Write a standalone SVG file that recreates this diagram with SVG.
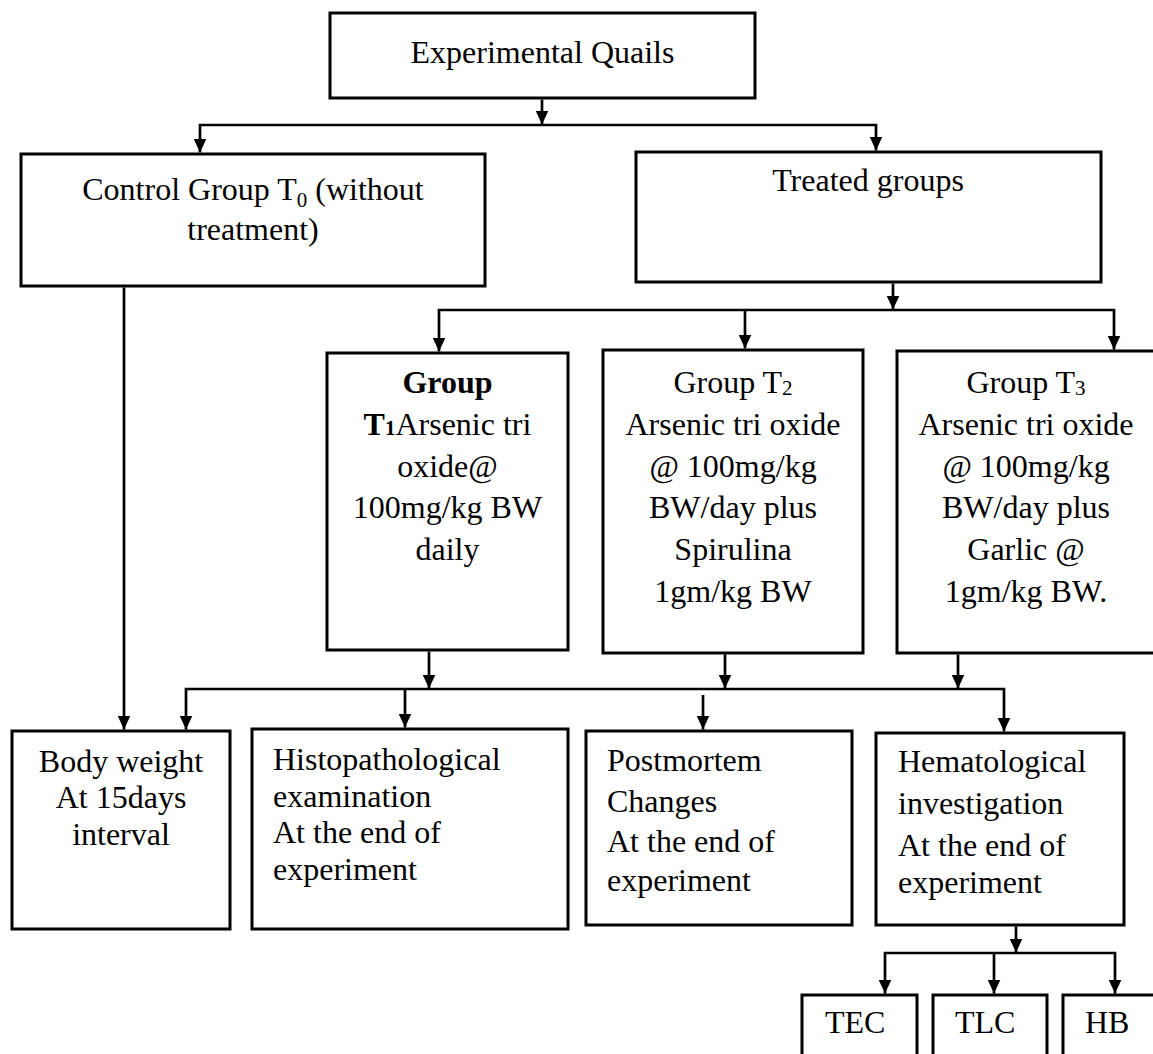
<svg xmlns="http://www.w3.org/2000/svg" width="1153" height="1054" viewBox="0 0 1153 1054">
<style>
.box{fill:#fff;stroke:#000;stroke-width:3}
.t{font-family:'Liberation Serif','Times New Roman',serif;font-size:32px;fill:#000}
.c{text-anchor:middle}
.b{font-weight:bold}
.con{fill:none;stroke:#000;stroke-width:2.7}
</style>
<defs>
<marker id="ah" markerUnits="userSpaceOnUse" markerWidth="14" markerHeight="13" refX="14" refY="6.5" orient="auto-start-reverse">
<path d="M0,0 L14,6.5 L0,13 z" fill="#000"/>
</marker>
</defs>
<rect width="1153" height="1054" fill="#fff"/>
<g id="connectors">
<path class="con" d="M542,99.5 V124.5" marker-end="url(#ah)"/>
<path class="con" d="M200,152.5 V125 H876 V150.5" marker-start="url(#ah)" marker-end="url(#ah)"/>
<path class="con" d="M124,287.5 V729.5" marker-end="url(#ah)"/>
<path class="con" d="M893,283.5 V309.5" marker-end="url(#ah)"/>
<path class="con" d="M439,351.5 V310 H1114 V349.5" marker-start="url(#ah)" marker-end="url(#ah)"/>
<path class="con" d="M745,310 V348.5" marker-end="url(#ah)"/>
<path class="con" d="M429,651.5 V688.5" marker-end="url(#ah)"/>
<path class="con" d="M725,654.5 V688.5" marker-end="url(#ah)"/>
<path class="con" d="M958,654.5 V688.5" marker-end="url(#ah)"/>
<path class="con" d="M186,729.5 V689 H1004 V731.5" marker-start="url(#ah)" marker-end="url(#ah)"/>
<path class="con" d="M405,689 V727.5" marker-end="url(#ah)"/>
<path class="con" d="M703,695 V729.5" marker-end="url(#ah)"/>
<path class="con" d="M1016,926.5 V952.5" marker-end="url(#ah)"/>
<path class="con" d="M885,993.5 V953 H1115 V993.5" marker-start="url(#ah)" marker-end="url(#ah)"/>
<path class="con" d="M994,953 V993.5" marker-end="url(#ah)"/>
</g>
<g id="experimental-quails">
<rect class="box" x="330" y="13" width="425" height="85"/>
<text class="t c" x="542.5" y="63">Experimental Quails</text>
</g>
<g id="control-group">
<rect class="box" x="21" y="154" width="464" height="132"/>
<text class="t c" x="253" y="200">Control Group T<tspan font-size="21" dy="7">0</tspan><tspan dy="-7"> (without</tspan></text>
<text class="t c" x="253" y="240">treatment)</text>
</g>
<g id="treated-groups">
<rect class="box" x="636" y="152" width="465" height="130"/>
<text class="t c" x="868" y="191">Treated groups</text>
</g>
<g id="group-t1">
<rect class="box" x="327" y="353" width="241" height="297"/>
<text class="t c b" x="447.5" y="393">Group</text>
<text class="t c" x="447.5" y="435"><tspan class="b">T</tspan><tspan class="b" font-size="21">1</tspan>Arsenic tri</text>
<text class="t c" x="447.5" y="477">oxide@</text>
<text class="t c" x="447.5" y="518">100mg/kg BW</text>
<text class="t c" x="447.5" y="560">daily</text>
</g>
<g id="group-t2">
<rect class="box" x="603" y="350" width="260" height="303"/>
<text class="t c" x="733" y="393">Group T<tspan font-size="21" dy="2">2</tspan></text>
<text class="t c" x="733" y="435">Arsenic tri oxide</text>
<text class="t c" x="733" y="477">@ 100mg/kg</text>
<text class="t c" x="733" y="518">BW/day plus</text>
<text class="t c" x="733" y="560">Spirulina</text>
<text class="t c" x="733" y="602">1gm/kg BW</text>
</g>
<g id="group-t3">
<rect class="box" x="897" y="351" width="259" height="302"/>
<text class="t c" x="1026" y="393">Group T<tspan font-size="21" dy="2">3</tspan></text>
<text class="t c" x="1026" y="435">Arsenic tri oxide</text>
<text class="t c" x="1026" y="477">@ 100mg/kg</text>
<text class="t c" x="1026" y="518">BW/day plus</text>
<text class="t c" x="1026" y="560">Garlic @</text>
<text class="t c" x="1026" y="602">1gm/kg BW.</text>
</g>
<g id="body-weight">
<rect class="box" x="12" y="731" width="218" height="198"/>
<text class="t c" x="121" y="772">Body weight</text>
<text class="t c" x="121" y="808">At 15days</text>
<text class="t c" x="121" y="845">interval</text>
</g>
<g id="histopathological">
<rect class="box" x="252" y="729" width="316" height="200"/>
<text class="t" x="273" y="770">Histopathological</text>
<text class="t" x="273" y="807">examination</text>
<text class="t" x="273" y="843">At the end of</text>
<text class="t" x="273" y="880">experiment</text>
</g>
<g id="postmortem">
<rect class="box" x="586" y="731" width="266" height="194"/>
<text class="t" x="607" y="771">Postmortem</text>
<text class="t" x="607" y="812">Changes</text>
<text class="t" x="607" y="852">At the end of</text>
<text class="t" x="607" y="891">experiment</text>
</g>
<g id="hematological">
<rect class="box" x="876" y="733" width="248" height="192"/>
<text class="t" x="898" y="772">Hematological</text>
<text class="t" x="898" y="814">investigation</text>
<text class="t" x="898" y="856">At the end of</text>
<text class="t" x="898" y="893">experiment</text>
</g>
<g id="tec">
<rect class="box" x="802" y="995" width="115" height="80"/>
<text class="t" x="825" y="1033">TEC</text>
</g>
<g id="tlc">
<rect class="box" x="933" y="995" width="114" height="80"/>
<text class="t" x="955" y="1033">TLC</text>
</g>
<g id="hb">
<rect class="box" x="1063" y="995" width="110" height="80"/>
<text class="t" x="1085" y="1033">HB</text>
</g>
</svg>
